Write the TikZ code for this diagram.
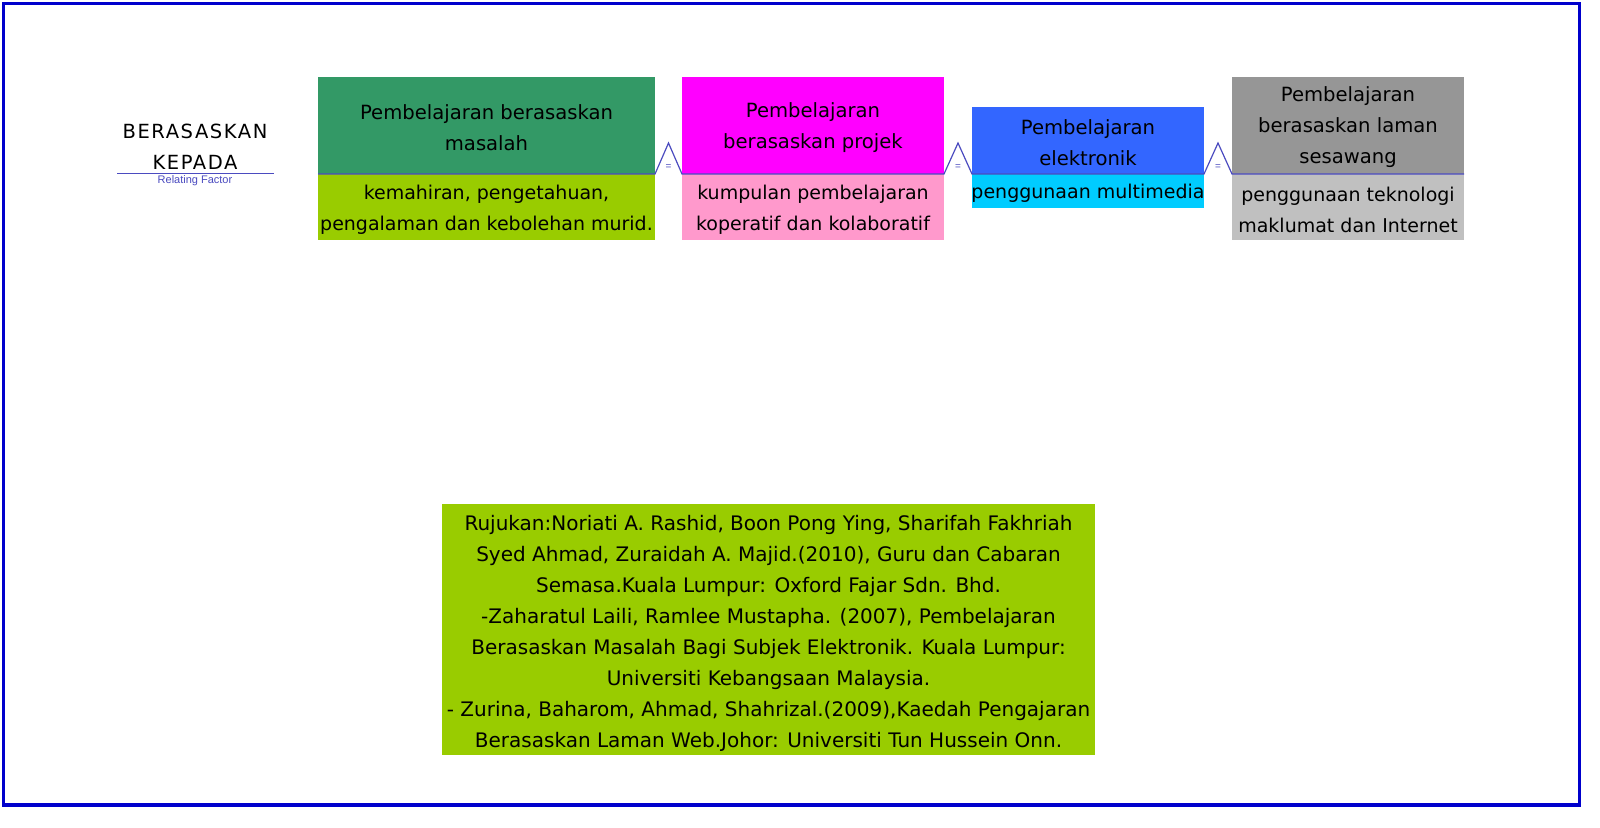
\documentclass[tikz,border=0pt]{standalone}
\usepackage{fontspec}
\setmainfont{DejaVu Sans}
\newfontfamily\arialf{Liberation Sans}
\usetikzlibrary{calc}
\definecolor{frameblue}{HTML}{0000CC}
\definecolor{linkblue}{HTML}{4B4BC0}
\definecolor{cAtop}{HTML}{339966}
\definecolor{cAbot}{HTML}{99CC00}
\definecolor{cBtop}{HTML}{FF00FF}
\definecolor{cBbot}{HTML}{FF99CC}
\definecolor{cCtop}{HTML}{3366FF}
\definecolor{cCbot}{HTML}{00CCFF}
\definecolor{cDtop}{HTML}{969696}
\definecolor{cDbot}{HTML}{C0C0C0}
\definecolor{refgreen}{HTML}{99CC00}
\begin{document}
\begin{tikzpicture}[x=1pt,y=-1pt,
  box/.style={inner sep=0pt, outer sep=0pt, anchor=north west},
  txt/.style={inner sep=0pt, align=center, font=\fontsize{19}{31}\selectfont},
  ttxt/.style={txt, font=\fontsize{19.6}{31}\selectfont},
  conn/.style={draw=linkblue, line width=1.2pt, line join=miter},
  eqsign/.style={inner sep=0pt, text=linkblue, font=\arialf\fontsize{10}{10}\selectfont},
  factor/.style={inner sep=0pt, align=center, font=\fontsize{19.5}{31}\selectfont\addfontfeature{LetterSpace=8}}
]
\useasboundingbox (0,0) rectangle (1600,827);
\fill[white] (0,0) rectangle (1600,827);
\draw[frameblue, line width=3.8pt] (3.5,3.5) rectangle (1579.5,805);

% left label
\node[factor] (lbl) at (195,147) {BERASASKAN\\KEPADA};
\coordinate (ulL) at (117,173.5);
\coordinate (ulR) at (273.5,173.5);
\draw[linkblue, line width=0.9pt] (ulL) -- (ulR);
\node[inner sep=0pt, text=linkblue, font=\arialf\fontsize{11}{11}\selectfont] (rf) at (195,180.5) {Relating Factor};

% boxes
\node[box, fill=cAtop, minimum width=337pt, minimum height=97pt] (t1) at (318,77) {};
\node[box, fill=cAbot, minimum width=337pt, minimum height=66pt] (d1) at (318,174) {};
\node[box, fill=cBtop, minimum width=262pt, minimum height=97pt] (t2) at (682,77) {};
\node[box, fill=cBbot, minimum width=262pt, minimum height=66pt] (d2) at (682,174) {};
\node[box, fill=cCtop, minimum width=232pt, minimum height=67pt] (t3) at (972,107) {};
\node[box, fill=cCbot, minimum width=232pt, minimum height=34pt] (d3) at (972,174) {};
\node[box, fill=cDtop, minimum width=232pt, minimum height=97pt] (t4) at (1232,77) {};
\node[box, fill=cDbot, minimum width=232pt, minimum height=66pt] (d4) at (1232,174) {};

% box texts
\node[ttxt] (t1l) at ($(t1.center)+(0,2.5)$) {Pembelajaran berasaskan\\masalah};
\node[txt]  (d1l) at ($(d1.center)+(0,2.5)$) {kemahiran, pengetahuan,\\pengalaman dan kebolehan murid.};
\node[ttxt] (t2l) at ($(t2.center)+(0,2.5)$) {Pembelajaran\\berasaskan projek};
\node[txt]  (d2l) at ($(d2.center)+(0,2.5)$) {kumpulan pembelajaran\\koperatif dan kolaboratif};
\node[ttxt] (t3l) at ($(t3.center)+(0,2.5)$) {Pembelajaran\\elektronik};
\node[txt]  (d3l) at ($(d3.center)+(0,2.5)$) {penggunaan multimedia};
\node[ttxt] (t4l) at ($(t4.center)+(0,1.5)$) {Pembelajaran\\berasaskan laman\\sesawang};
\node[txt]  (d4l) at ($(d4.center)+(0,2.5)$) {penggunaan teknologi\\maklumat dan Internet};

% connectors
\coordinate (p1) at ($(t1.south east)!0.5!(t2.south west)+(0,-31)$);
\coordinate (p2) at ($(t2.south east)!0.5!(t3.south west)+(0,-31)$);
\coordinate (p3) at ($(t3.south east)!0.5!(t4.south west)+(0,-31)$);
\draw[conn] (t1.south west) -- (t1.south east) -- (p1) -- (t2.south west) -- (t2.south east)
  -- (p2) -- (t3.south west) -- (t3.south east) -- (p3) -- (t4.south west) -- (t4.south east);
\node[eqsign] (e1) at ($(p1)+(0,24)$) {=};
\node[eqsign] (e2) at ($(p2)+(0,24)$) {=};
\node[eqsign] (e3) at ($(p3)+(0,24)$) {=};

% reference box
\node[box, fill=refgreen, minimum width=653pt, minimum height=251pt] (ref) at (442,504) {};
\node[txt, font=\fontsize{20}{30.9}\selectfont] (refl) at ($(ref.center)+(0,4)$)
{Rujukan:Noriati A. Rashid, Boon Pong Ying, Sharifah Fakhriah\\
Syed Ahmad, Zuraidah A. Majid.(2010), Guru dan Cabaran\\
Semasa.Kuala Lumpur: Oxford Fajar Sdn. Bhd.\\
-Zaharatul Laili, Ramlee Mustapha. (2007), Pembelajaran\\
Berasaskan Masalah Bagi Subjek Elektronik. Kuala Lumpur:\\
Universiti Kebangsaan Malaysia.\\
- Zurina, Baharom, Ahmad, Shahrizal.(2009),Kaedah Pengajaran\\
Berasaskan Laman Web.Johor: Universiti Tun Hussein Onn.};
\end{tikzpicture}
\end{document}
